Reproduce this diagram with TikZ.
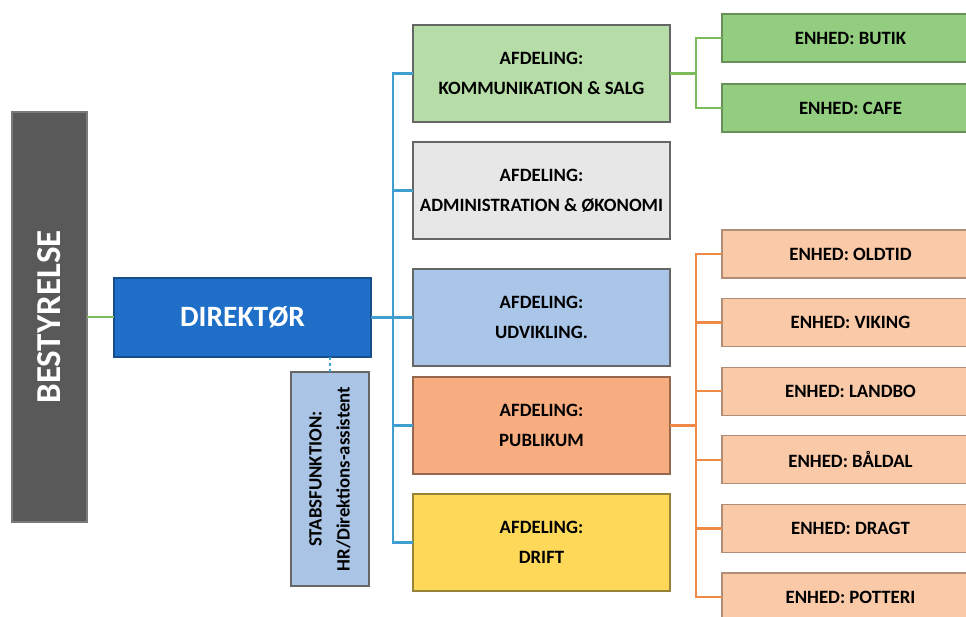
\documentclass[tikz,border=0pt]{standalone}
\usepackage{fontspec}
\setmainfont{Carlito}

\definecolor{boardgrey}{HTML}{595959}
\definecolor{dirblue}{HTML}{1F6FC8}
\definecolor{linkblue}{HTML}{3E9FD0}
\definecolor{linkgreen}{HTML}{7DBB5A}
\definecolor{linkorange}{HTML}{EE8A45}
\definecolor{stabfill}{HTML}{A9C4E4}
\definecolor{kommfill}{HTML}{B6DDA8}
\definecolor{admfill}{HTML}{E7E7E7}
\definecolor{udvfill}{HTML}{A9C6E8}
\definecolor{pubfill}{HTML}{F8AD80}
\definecolor{driftfill}{HTML}{FDD859}
\definecolor{greenunit}{HTML}{93CD80}
\definecolor{orangeunit}{HTML}{FAC9A8}

\begin{document}
\begin{tikzpicture}[x=1pt, y=-1pt,
    box/.style={draw=gray!80!black, line width=1.2pt, inner sep=0pt, outer sep=0pt,
        align=center, font=\bfseries\fontsize{18.8}{30}\selectfont},
    afd/.style={box, anchor=north west, minimum width=257pt, minimum height=97pt},
    enhed/.style={box, anchor=north west, minimum width=257pt, minimum height=48pt},
    link/.style={line width=2.4pt}]

    \useasboundingbox (0,0) rectangle (966,617);

    %% Top

    % Board and director
    \node[box, fill=boardgrey, draw=boardgrey!80!white, text=white, rotate=90,
        minimum width=410pt, minimum height=75pt, font=\bfseries\fontsize{35}{38}\selectfont]
        (best) at (49.5,317) {BESTYRELSE};
    \node[box, fill=dirblue, draw=dirblue!70!black, text=white,
        minimum width=257pt, minimum height=79pt, font=\bfseries\fontsize{29.5}{32}\selectfont]
        (dir) at (242.5,317.5) {DIREKTØR};

    % Staff function
    \node[box, fill=stabfill, rotate=90, minimum width=214pt, minimum height=78pt,
        font=\bfseries\fontsize{18.8}{28}\selectfont]
        (stab) at (330,479) {STABSFUNKTION:\\HR/Direktions-assistent};

    %% Departments
    \node[afd, fill=kommfill] (komm) at (413,25) {AFDELING:\\KOMMUNIKATION \& SALG};
    \node[afd, fill=admfill] (adm) at (413,142) {AFDELING:\\ADMINISTRATION \& ØKONOMI};
    \node[afd, fill=udvfill] (udv) at (413,269) {AFDELING:\\UDVIKLING.};
    \node[afd, fill=pubfill, draw=pubfill!60!black] (pub) at (413,377) {AFDELING:\\PUBLIKUM};
    \node[afd, fill=driftfill, draw=driftfill!60!black] (drift) at (413,494) {AFDELING:\\DRIFT};

    %% Units
    \node[enhed, fill=greenunit, draw=greenunit!70!black] (butik) at (722,14) {ENHED: BUTIK};
    \node[enhed, fill=greenunit, draw=greenunit!70!black] (cafe) at (722,84) {ENHED: CAFE};

    \foreach \name/\txt [count=\i from 0] in {oldtid/OLDTID, viking/VIKING, landbo/LANDBO,
            baldal/BÅLDAL, dragt/DRAGT, potteri/POTTERI}
        \node[enhed, fill=orangeunit, draw=orangeunit!70!black] (\name) at (722,230+68.6*\i) {ENHED: \txt};

    %% Connectors
    \coordinate (bj) at (393,0);
    \coordinate (gj) at (696,0);
    \coordinate (oj) at (696,0);

    \draw[link, linkgreen] (best.south) -- (best.south -| dir.west);
    \draw[link, linkblue, dashed] (dir.south -| stab.east) -- (stab.east);
    \draw[link, linkblue] (dir.east) -- (udv.west);
    \draw[link, linkblue] (komm.west) -- (komm.west -| bj) -- (drift.west -| bj) -- (drift.west);
    \foreach \n in {adm, pub}
        \draw[link, linkblue] (\n.west) -- (\n.west -| bj);

    \draw[link, linkgreen] (komm.east) -- (komm.east -| gj);
    \draw[link, linkgreen] (butik.west) -- (butik.west -| gj) -- (cafe.west -| gj) -- (cafe.west);

    \draw[link, linkorange] (pub.east) -- (pub.east -| oj);
    \draw[link, linkorange] (oldtid.west) -- (oldtid.west -| oj) -- (potteri.west -| oj) -- (potteri.west);
    \foreach \n in {viking, landbo, baldal, dragt}
        \draw[link, linkorange] (\n.west) -- (\n.west -| oj);

\end{tikzpicture}
\end{document}
